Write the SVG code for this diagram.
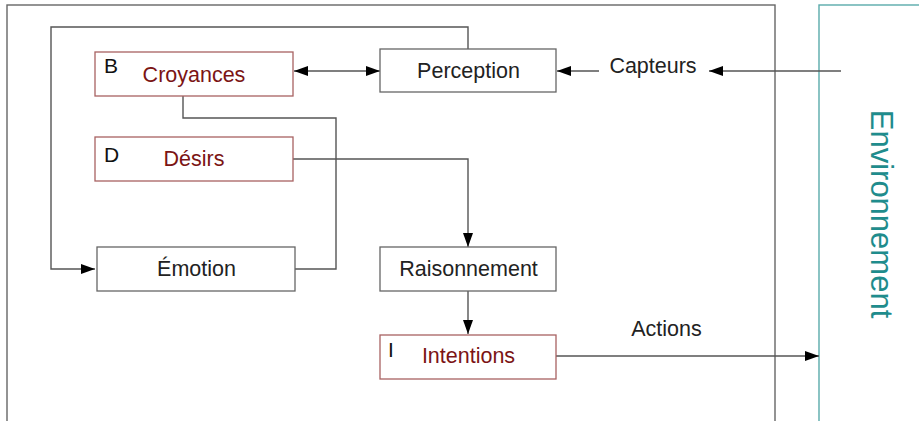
<svg xmlns="http://www.w3.org/2000/svg" width="919" height="421" viewBox="0 0 919 421">
<style>
.box{fill:#fff;stroke:#666;stroke-width:1.3}
.rbox{fill:#fff;stroke:#a86262;stroke-width:1.3}
.t{font-family:"Liberation Sans",Arial,sans-serif;font-size:21.5px;fill:#222;text-anchor:middle}
.rt{font-family:"Liberation Sans",Arial,sans-serif;font-size:21.5px;fill:#7b1414;text-anchor:middle}
.lbl{font-family:"Liberation Sans",Arial,sans-serif;font-size:21px;fill:#111}
.c{fill:none;stroke:#555;stroke-width:1.4}
</style>
<defs>
<marker id="ah" markerUnits="userSpaceOnUse" markerWidth="15" markerHeight="11" refX="14" refY="5" orient="auto-start-reverse" viewBox="0 0 15 11">
<path d="M0,0 L14,5 L0,10 z" fill="#000"/>
</marker>
</defs>
<rect width="919" height="421" fill="#fff"/>
<g id="agent"><rect x="7" y="5" width="768" height="430" fill="none" stroke="#666" stroke-width="1.4"/></g>
<g id="environnement">
<rect x="819" y="5" width="120" height="430" fill="none" stroke="#5aabab" stroke-width="1.4"/>
<text transform="translate(871,214) rotate(90)" font-family="Liberation Sans,Arial,sans-serif" font-size="31" fill="#1f8c8c" text-anchor="middle">Environnement</text>
</g>
<g id="connectors">
<path class="c" d="M468,49 V27 H51 V269 H95" marker-end="url(#ah)"/>
<path class="c" d="M183,96 V118 H336 V269 H295"/>
<path class="c" d="M293,159 H468 V247" marker-end="url(#ah)"/>
<path class="c" d="M468,291 V334" marker-end="url(#ah)"/>
<path class="c" d="M556,356 H819" marker-end="url(#ah)"/>
<path class="c" d="M294,71 H380" marker-start="url(#ah)" marker-end="url(#ah)"/>
<path class="c" d="M599,71 H557" marker-end="url(#ah)"/>
<path class="c" d="M841,71 H709" marker-end="url(#ah)"/>
<text class="t" x="653" y="73">Capteurs</text>
<text class="t" x="666.5" y="336">Actions</text>
</g>
<g id="croyances">
<rect class="rbox" x="95" y="52" width="198" height="44"/>
<text class="lbl" x="104" y="73">B</text>
<text class="rt" x="194" y="82">Croyances</text>
</g>
<g id="desirs">
<rect class="rbox" x="95" y="137" width="198" height="44"/>
<text class="lbl" x="104" y="162">D</text>
<text class="rt" x="194" y="166">Désirs</text>
</g>
<g id="perception">
<rect class="box" x="380" y="49" width="176" height="43"/>
<text class="t" x="468.5" y="78">Perception</text>
</g>
<g id="emotion">
<rect class="box" x="97" y="247" width="198" height="44"/>
<text class="t" x="196.5" y="276">Émotion</text>
</g>
<g id="raisonnement">
<rect class="box" x="380" y="247" width="176" height="44"/>
<text class="t" x="468.5" y="276">Raisonnement</text>
</g>
<g id="intentions">
<rect class="rbox" x="380" y="335" width="176" height="44"/>
<text class="lbl" x="388" y="357">I</text>
<text class="rt" x="468.5" y="363">Intentions</text>
</g>
</svg>
